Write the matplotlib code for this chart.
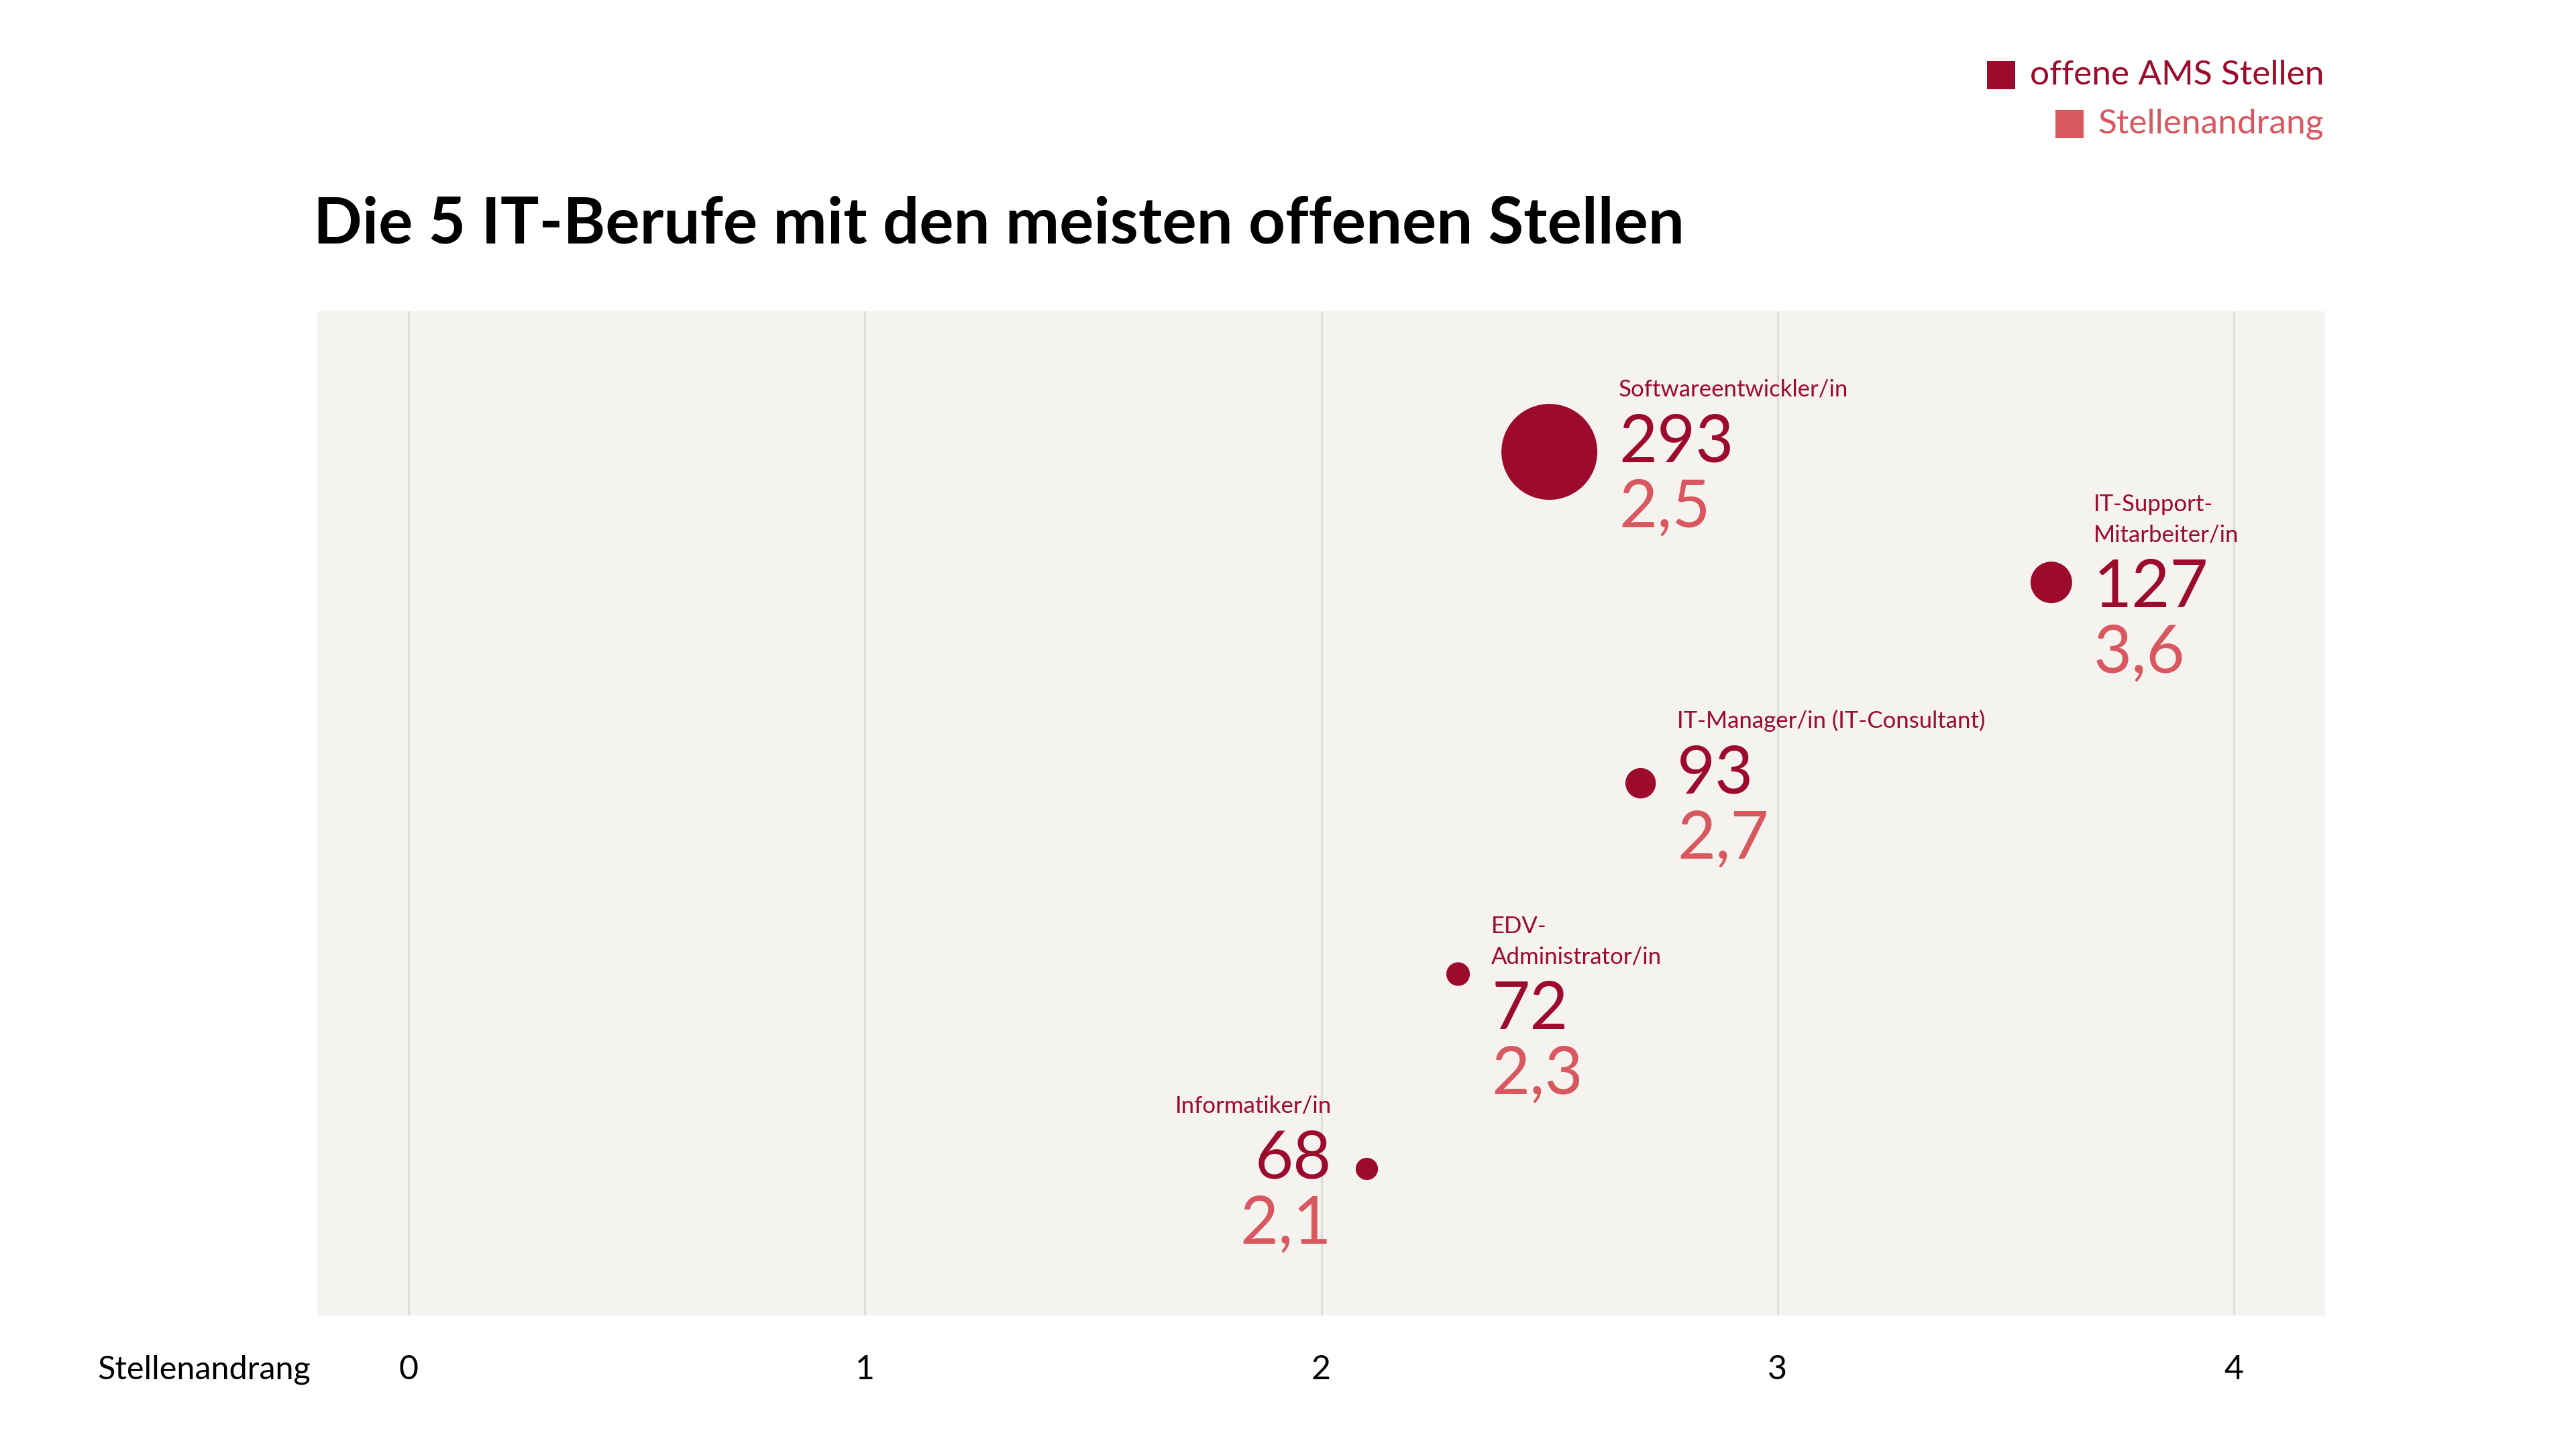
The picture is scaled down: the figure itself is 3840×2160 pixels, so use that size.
import matplotlib
matplotlib.use("Agg")
import matplotlib.pyplot as plt
from matplotlib.patches import Rectangle

# data
berufe = ["Softwareentwickler/in", "IT-Support-\nMitarbeiter/in",
          "IT-Manager/in (IT-Consultant)", "EDV-\nAdministrator/in",
          "Informatiker/in"]
offene_stellen = [293, 127, 93, 72, 68]
stellenandrang = [2.5, 3.6, 2.7, 2.3, 2.1]
# vertical position of each bubble inside the panel (0 = bottom, 1 = top)
zeile = [0.860, 0.730, 0.530, 0.340, 0.146]
x_ticks = [0, 1, 2, 3, 4]

# label layout (pixels): number baseline below centre, label side
num_dy = [15, 37, 15, 82, 14]
seite = ["r", "r", "r", "r", "l"]

DARK = "#9c0a2c"
LIGHT = "#d9585f"
PANEL = "#f5f3f0"
GRID = "#e0dedb"
DPI = 200
FONT = "Lato"


def main():
    plt.rcParams["font.family"] = [FONT, "DejaVu Sans"]
    fig = plt.figure(figsize=(19.2, 10.8), dpi=DPI)
    ax = fig.add_axes([0.1232, 0.0921, 0.7794, 0.6931])
    ax.set_facecolor(PANEL)
    for s in ax.spines.values():
        s.set_visible(False)
    ax.set_xlim(-0.2, 4.2)
    ax.set_ylim(0, 1)
    ax.set_yticks([])
    ax.set_xticks(x_ticks)
    ax.set_xticklabels([str(t) for t in x_ticks])
    ax.tick_params(axis="x", length=0, pad=21, labelsize=18)
    ax.grid(axis="x", color=GRID, linewidth=1.2)
    ax.set_axisbelow(True)

    # bubble diameter in px proportional to open positions
    diam_px = [0.488 * v for v in offene_stellen]
    sizes = [(d * 72 / DPI) ** 2 for d in diam_px]
    ax.scatter(stellenandrang, zeile, s=sizes, color=DARK, linewidths=0, zorder=3)

    for i, name in enumerate(berufe):
        r = diam_px[i] / 2
        if seite[i] == "r":
            dx, ha = r + 32, "left"
        else:
            dx, ha = -(r + 36), "right"
        base = -num_dy[i]
        xy = (stellenandrang[i], zeile[i])
        ax.annotate(str(offene_stellen[i]), xy, xytext=(dx, base),
                    textcoords="offset pixels", ha=ha, va="baseline",
                    fontsize=35.5, color=DARK)
        wert = f"{stellenandrang[i]:.1f}".replace(".", ",")
        ax.annotate(wert, xy, xytext=(dx, base - 97),
                    textcoords="offset pixels", ha=ha, va="baseline",
                    fontsize=35.5, color=LIGHT)
        lines = name.split("\n")
        for j, line in enumerate(reversed(lines)):
            ax.annotate(line, xy, xytext=(dx, base + 98 + 45 * j),
                        textcoords="offset pixels", ha=ha, va="baseline",
                        fontsize=12.5, color=DARK)

    fig.text(0.1215, 0.8324, "Die 5 IT-Berufe mit den meisten offenen Stellen",
             fontsize=34.5, fontweight="bold", color="black", va="baseline")
    fig.text(145 / 3840, (2160 - 2055) / 2160, "Stellenandrang",
             fontsize=17.5, color="black", va="baseline")

    # legend, right aligned
    fig.canvas.draw()
    renderer = fig.canvas.get_renderer()
    W, H = fig.bbox.width, fig.bbox.height
    for label, col, base_px in [("offene AMS Stellen", DARK, 126),
                                ("Stellenandrang", LIGHT, 199)]:
        t = fig.text(3464 / W, (H - base_px) / H, label, fontsize=18.5,
                     color=col, ha="right", va="baseline")
        bb = t.get_window_extent(renderer)
        sq = 42
        x0 = bb.x0 - 22 - sq
        y0 = (H - base_px) - 7
        fig.add_artist(Rectangle((x0 / W, y0 / H), sq / W, sq / H,
                                 transform=fig.transFigure, color=col, lw=0))

    fig.savefig("out.png", dpi=DPI, facecolor="white")


if __name__ == "__main__":
    main()
